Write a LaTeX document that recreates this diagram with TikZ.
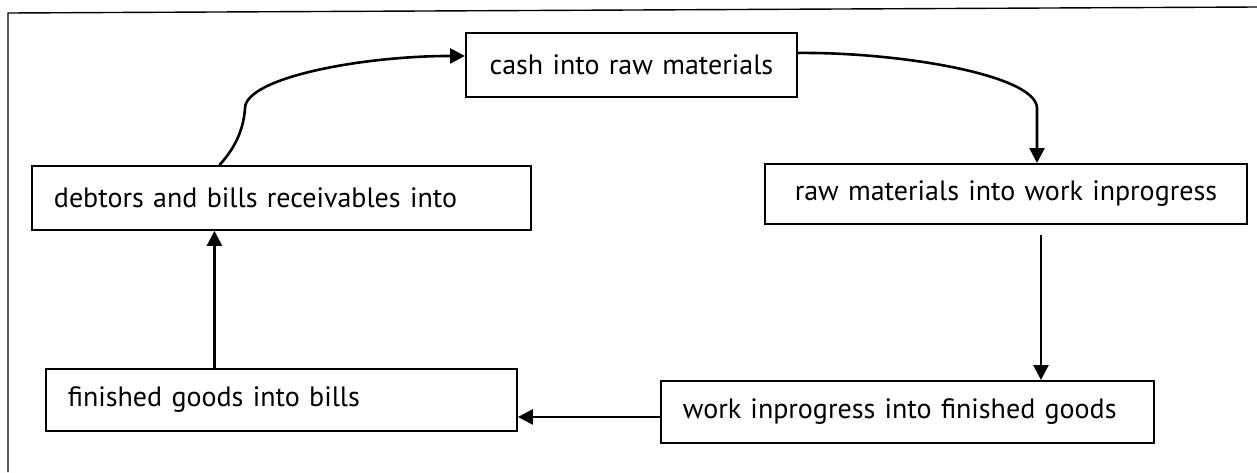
\documentclass[tikz,border=0pt]{standalone}
\usepackage{fontspec}
\usetikzlibrary{arrows.meta}
\newfontfamily\boxfont{PT Sans}

\tikzset{
  stage/.style={draw, line width=1.9pt, inner xsep=22pt, minimum height=62pt,
    anchor=north west, align=left, font=\boxfont\fontsize{28}{32}\selectfont},
  flow/.style={line width=2.6pt, -{Triangle[length=15pt,width=15pt]}}
}

\begin{document}
\begin{tikzpicture}[x=1pt, y=-1pt]
\useasboundingbox (0,0) rectangle (1257,472);

% outer frame
\draw[line width=1.4pt] (1257,7) -- (8,13) -- (8,472);

\node[stage, text width=287pt, minimum height=64pt, align=center] (cash) at (465,32) {cash into raw materials};
\node[stage, text width=438pt, minimum height=60pt, align=center] (raw) at (764,163) {raw materials into work inprogress};
\node[stage, text width=449pt] (work) at (660,380) {work inprogress into finished goods};
\node[stage, text width=427pt] (fin) at (45,368) {finished goods into bills};
\node[stage, text width=455pt, minimum height=64pt] (debt) at (31,165) {debtors and bills receivables into};

\coordinate (bend1) at (1037,108);
\coordinate (bend2) at (245,108);

\draw[flow] ([yshift=12pt]cash.east) .. controls (900,52) and (1036,75) .. (bend1) -- (bend1 |- raw.north);
\draw[flow] ([xshift=35pt,yshift=-10pt]raw.south) -- ([xshift=35pt]raw.south |- work.north);
\draw[flow] ([yshift=-5pt]work.west) -- ([yshift=-5pt]work.west -| fin.east);
\draw[flow] ([xshift=-67pt]fin.north) -- ([xshift=-67pt]fin.north |- debt.south);
\draw[flow] ([xshift=-62pt]debt.north) .. controls (238,145) and (244,125) .. (bend2)
  .. controls (246,78) and (360,56) .. ([yshift=9pt]cash.west);

\end{tikzpicture}
\end{document}
